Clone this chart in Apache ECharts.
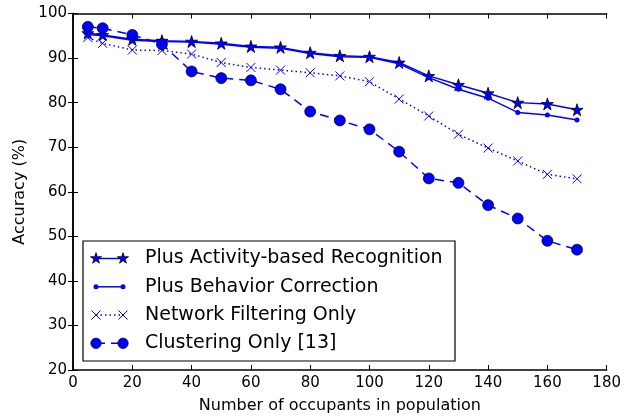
<!DOCTYPE html>
<html>
<head>
<meta charset="utf-8">
<script src="https://cdn.jsdelivr.net/npm/echarts@6/dist/echarts.min.js"></script>
<style>html,body{margin:0;padding:0;background:#fff}#c{width:624px;height:419px}</style>
</head>
<body>
<div id="c"></div>
<script>
var occupants = [5, 10, 20, 30, 40, 50, 60, 70, 80, 90, 100, 110, 120, 130, 140, 150, 160, 170];
var activityRecognition = [95.6, 95.2, 94.2, 93.9, 93.7, 93.3, 92.6, 92.4, 91.2, 90.5, 90.3, 89.0, 86.0, 84.0, 82.1, 80.0, 79.7, 78.4];
var behaviorCorrection  = [95.3, 95.0, 94.0, 93.7, 93.6, 93.1, 92.4, 92.2, 91.0, 90.3, 90.2, 88.7, 85.6, 83.0, 81.0, 77.8, 77.2, 76.1];
var networkFiltering    = [94.6, 93.3, 91.8, 91.7, 90.9, 89.0, 87.9, 87.3, 86.7, 86.0, 84.7, 80.8, 77.0, 72.9, 69.8, 66.9, 63.9, 62.9];
var clusteringOnly      = [97.0, 96.7, 95.2, 93.1, 87.0, 85.5, 85.0, 83.0, 78.0, 76.0, 74.0, 69.0, 63.0, 62.0, 57.0, 54.0, 49.0, 47.0];
var seriesNames = ['Plus Activity-based Recognition', 'Plus Behavior Correction', 'Network Filtering Only', 'Clustering Only [13]'];
var xTicks = [0, 20, 40, 60, 80, 100, 120, 140, 160, 180];
var yTicks = [20, 30, 40, 50, 60, 70, 80, 90, 100];

function pairs(ys) { return occupants.map(function (x, i) { return [x, ys[i]]; }); }

var BLUE = '#0000ff';
var STAR = 'path://M50 0 L61.23 34.55 L97.55 34.55 L68.16 55.9 L79.39 90.45 L50 69.1 L20.61 90.45 L31.84 55.9 L2.45 34.55 L38.77 34.55 Z';
var CROSS = 'path://M0 0 L10 10 M10 0 L0 10';
var FONT = 'DejaVu Sans';

function starPoints(cx, cy, r) {
  var pts = [];
  for (var k = 0; k < 10; k++) {
    var a = -Math.PI / 2 + k * Math.PI / 5;
    var rr = (k % 2 === 0) ? r : r * 0.382;
    pts.push([cx + rr * Math.cos(a), cy + rr * Math.sin(a)]);
  }
  return pts;
}

var chart = echarts.init(document.getElementById('c'), null, {renderer: 'canvas'});

var axisCommon = {
  axisLine: {show: true, lineStyle: {color: '#000', width: 1.5}},
  axisTick: {show: true, inside: true, length: 5, lineStyle: {color: '#000', width: 1}},
  splitLine: {show: false}
};

var LX0 = 96, LX1 = 123, LTX = 145, LY = [258.5, 286.8, 315, 343.3];
var legendGraphics = [
  {type: 'rect', shape: {x: 83, y: 241, width: 372, height: 120}, style: {fill: '#fff', stroke: '#000', lineWidth: 1.2}, z: 100},
  {type: 'line', shape: {x1: LX0, y1: LY[0], x2: LX1, y2: LY[0]}, style: {stroke: BLUE, lineWidth: 1.5}, z: 101},
  {type: 'polygon', shape: {points: starPoints(LX0, LY[0], 5.8)}, style: {fill: BLUE, stroke: '#000', lineWidth: 0.8}, z: 102},
  {type: 'polygon', shape: {points: starPoints(LX1, LY[0], 5.8)}, style: {fill: BLUE, stroke: '#000', lineWidth: 0.8}, z: 102},
  {type: 'line', shape: {x1: LX0, y1: LY[1], x2: LX1, y2: LY[1]}, style: {stroke: BLUE, lineWidth: 1.5}, z: 101},
  {type: 'circle', shape: {cx: LX0, cy: LY[1], r: 2.5}, style: {fill: BLUE}, z: 102},
  {type: 'circle', shape: {cx: LX1, cy: LY[1], r: 2.5}, style: {fill: BLUE}, z: 102},
  {type: 'line', shape: {x1: LX0, y1: LY[2], x2: LX1, y2: LY[2]}, style: {stroke: BLUE, lineWidth: 1.5, lineDash: [1.5, 3]}, z: 101},
  {type: 'line', shape: {x1: LX0 - 4.5, y1: LY[2] - 4.5, x2: LX0 + 4.5, y2: LY[2] + 4.5}, style: {stroke: BLUE, lineWidth: 1}, z: 102},
  {type: 'line', shape: {x1: LX0 - 4.5, y1: LY[2] + 4.5, x2: LX0 + 4.5, y2: LY[2] - 4.5}, style: {stroke: BLUE, lineWidth: 1}, z: 102},
  {type: 'line', shape: {x1: LX1 - 4.5, y1: LY[2] - 4.5, x2: LX1 + 4.5, y2: LY[2] + 4.5}, style: {stroke: BLUE, lineWidth: 1}, z: 102},
  {type: 'line', shape: {x1: LX1 - 4.5, y1: LY[2] + 4.5, x2: LX1 + 4.5, y2: LY[2] - 4.5}, style: {stroke: BLUE, lineWidth: 1}, z: 102},
  {type: 'line', shape: {x1: LX0, y1: LY[3], x2: LX1, y2: LY[3]}, style: {stroke: BLUE, lineWidth: 1.5, lineDash: [9, 6]}, z: 101},
  {type: 'circle', shape: {cx: LX0, cy: LY[3], r: 5.2}, style: {fill: BLUE, stroke: '#000', lineWidth: 0.7}, z: 102},
  {type: 'circle', shape: {cx: LX1, cy: LY[3], r: 5.2}, style: {fill: BLUE, stroke: '#000', lineWidth: 0.7}, z: 102}
];
seriesNames.forEach(function (n, i) {
  legendGraphics.push({type: 'text', x: LTX, y: LY[i], style: {text: n, fontSize: 19, fontFamily: FONT, fill: '#000', verticalAlign: 'middle'}, z: 103});
});

var option = {
  animation: false,
  backgroundColor: '#fff',
  textStyle: {fontFamily: FONT},
  grid: {left: 73, right: 15, top: 13.5, bottom: 48.5, containLabel: false},
  xAxis: [
    Object.assign({}, axisCommon, {
      type: 'value', min: 0, max: 180, interval: 20, position: 'bottom',
      name: 'Number of occupants in population', nameLocation: 'middle', nameGap: 28,
      nameTextStyle: {fontSize: 16, color: '#000', fontFamily: FONT},
      axisLabel: {fontSize: 15, color: '#000', margin: 6, fontFamily: FONT,
        formatter: function (v) { return xTicks.indexOf(v) >= 0 ? String(v) : ''; }}
    }),
    Object.assign({}, axisCommon, {
      type: 'value', min: 0, max: 180, interval: 20, position: 'top', axisLabel: {show: false}
    })
  ],
  yAxis: [
    Object.assign({}, axisCommon, {
      type: 'value', min: 20, max: 100, interval: 10, position: 'left',
      name: 'Accuracy (%)', nameLocation: 'middle', nameGap: 44, nameRotate: 90,
      nameTextStyle: {fontSize: 16, color: '#000', fontFamily: FONT},
      axisLabel: {fontSize: 15, color: '#000', margin: 6, fontFamily: FONT,
        formatter: function (v) { return yTicks.indexOf(v) >= 0 ? String(v) : ''; }}
    }),
    Object.assign({}, axisCommon, {
      type: 'value', min: 20, max: 100, interval: 10, position: 'right', axisLabel: {show: false}
    })
  ],
  graphic: legendGraphics,
  series: [
    {
      name: seriesNames[0], type: 'line', data: pairs(activityRecognition),
      symbol: STAR, symbolSize: 12,
      lineStyle: {color: BLUE, width: 1.5},
      itemStyle: {color: BLUE, borderColor: '#000', borderWidth: 0.8},
      z: 2
    },
    {
      name: seriesNames[1], type: 'line', data: pairs(behaviorCorrection),
      symbol: 'circle', symbolSize: 5,
      lineStyle: {color: BLUE, width: 1.5},
      itemStyle: {color: BLUE, borderWidth: 0},
      z: 3
    },
    {
      name: seriesNames[2], type: 'line', data: pairs(networkFiltering),
      symbol: CROSS, symbolSize: 9,
      lineStyle: {color: BLUE, width: 1.5, type: [1.5, 3]},
      itemStyle: {color: 'none', borderColor: BLUE, borderWidth: 1},
      z: 4
    },
    {
      name: seriesNames[3], type: 'line', data: pairs(clusteringOnly),
      symbol: 'circle', symbolSize: 11,
      lineStyle: {color: BLUE, width: 1.5, type: [9, 6]},
      itemStyle: {color: BLUE, borderColor: '#000', borderWidth: 0.7},
      z: 5
    }
  ]
};
chart.setOption(option);
</script>
</body>
</html>
